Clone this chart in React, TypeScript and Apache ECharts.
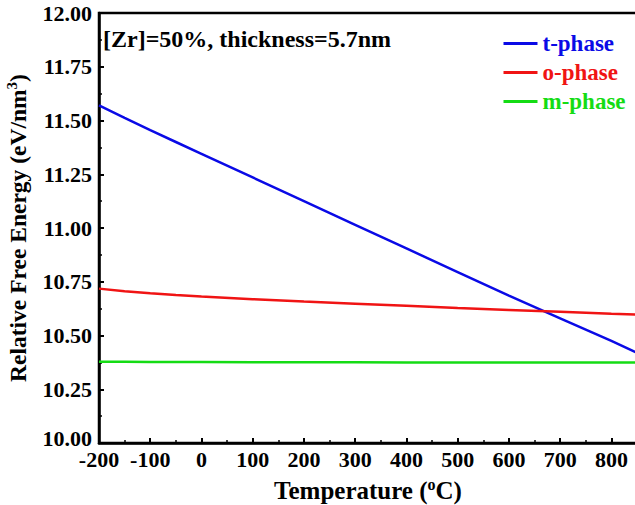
import React, { useEffect, useRef } from "react";
import * as echarts from "echarts";

const temperature = [-200, -150, -100, -50, 0, 100, 200, 300, 400, 500, 600, 700, 800, 850];
const tPhase = [11.57, 11.512, 11.455, 11.4, 11.345, 11.235, 11.125, 11.015, 10.905, 10.795, 10.685, 10.58, 10.475, 10.42];
const oPhase = [10.718, 10.706, 10.696, 10.688, 10.681, 10.669, 10.658, 10.648, 10.638, 10.628, 10.619, 10.61, 10.601, 10.597];
const mPhase = [10.378, 10.378, 10.377, 10.377, 10.377, 10.376, 10.376, 10.376, 10.375, 10.375, 10.375, 10.374, 10.374, 10.374];
const seriesNames = ["t-phase", "o-phase", "m-phase"];
const seriesColors = ["#0a0ae6", "#f01414", "#14dc14"];
const annotation = "[Zr]=50%, thickness=5.7nm";

const FONT = "'Liberation Serif', 'Times New Roman', serif";

export default function App() {
  const ref = useRef<HTMLDivElement>(null);
  useEffect(() => {
    if (!ref.current) return;
    const chart = echarts.init(ref.current, undefined, { renderer: "svg" });
    const dataSets = [tPhase, oPhase, mPhase];
    const labelStyle = { color: "#000", fontFamily: FONT, fontWeight: "bold", fontSize: 22 };
    chart.setOption({
      animation: false,
      backgroundColor: "#ffffff",
      textStyle: { fontFamily: FONT },
      grid: {
        left: 99,
        top: 13,
        right: 3,
        bottom: 62,
        containLabel: false,
        outerBoundsMode: "none",
        show: true,
        borderColor: "#000",
        borderWidth: 2.5,
      },
      legend: {
        orient: "vertical",
        left: 497,
        top: 27,
        itemWidth: 34,
        itemHeight: 14,
        itemGap: 6,
        itemStyle: { opacity: 0 },
        lineStyle: { width: 3 },
        data: seriesNames.map((n, i) => ({
          name: n,
          textStyle: { color: seriesColors[i] },
        })),
        textStyle: { fontFamily: FONT, fontWeight: "bold", fontSize: 23 },
      },
      graphic: [
        {
          type: "text",
          left: 103,
          top: 27,
          style: {
            text: annotation,
            font: `bold 24px ${FONT}`,
            fill: "#000",
          },
        },
      ],
      xAxis: {
        type: "value",
        min: -200,
        max: 850,
        interval: 100,
        name: "Temperature ({sup|o}C)",
        nameLocation: "middle",
        nameGap: 33,
        nameTextStyle: {
          fontFamily: FONT,
          fontWeight: "bold",
          fontSize: 25,
          color: "#000",
          rich: {
            sup: { fontFamily: FONT, fontWeight: "bold", fontSize: 16, verticalAlign: "top", padding: [0, 0, 12, 0], color: "#000" },
          },
        },
        axisLine: { onZero: false, lineStyle: { color: "#000", width: 2.5 } },
        axisTick: { inside: true, length: 5, lineStyle: { color: "#000", width: 2 } },
        minorTick: { show: true, splitNumber: 2, length: 3, lineStyle: { color: "#000", width: 1.5 } },
        axisLabel: {
          ...labelStyle,
          margin: 5,
          formatter: (v: number) => (v > 800 ? "" : String(v)),
        },
        splitLine: { show: false },
      },
      yAxis: {
        type: "value",
        min: 10,
        max: 12,
        interval: 0.25,
        name: "Relative Free Energy (eV/nm{sup|3})",
        nameLocation: "middle",
        nameGap: 68,
        nameTextStyle: {
          fontFamily: FONT,
          fontWeight: "bold",
          fontSize: 23.5,
          color: "#000",
          rich: {
            sup: { fontFamily: FONT, fontWeight: "bold", fontSize: 15, verticalAlign: "top", padding: [0, 0, 12, 0], color: "#000" },
          },
        },
        axisLine: { onZero: false, lineStyle: { color: "#000", width: 2.5 } },
        axisTick: { inside: true, length: 5, lineStyle: { color: "#000", width: 2 } },
        minorTick: { show: true, splitNumber: 2, length: 3, lineStyle: { color: "#000", width: 1.5 } },
        axisLabel: {
          ...labelStyle,
          margin: 7,
          lineHeight: 18,
          formatter: (v: number) => (v === 10 ? "{low|" + v.toFixed(2) + "}" : v.toFixed(2)),
          rich: {
            low: { ...labelStyle, lineHeight: 18, padding: [0, 0, 9, 0] },
          },
        },
        splitLine: { show: false },
      },
      series: seriesNames.map((n, i) => ({
        name: n,
        type: "line",
        smooth: false,
        symbol: "none",
        data: temperature.map((t, j) => [t, dataSets[i][j]]),
        lineStyle: { color: seriesColors[i], width: 2.5 },
        itemStyle: { color: seriesColors[i] },
      })),
    });
    return () => chart.dispose();
  }, []);
  return (
    <div style={{ position: "absolute", left: 0, top: 0, width: 635, height: 505, overflow: "hidden", background: "#fff" }}>
      <div ref={ref} style={{ width: 640, height: 505 }} />
    </div>
  );
}
